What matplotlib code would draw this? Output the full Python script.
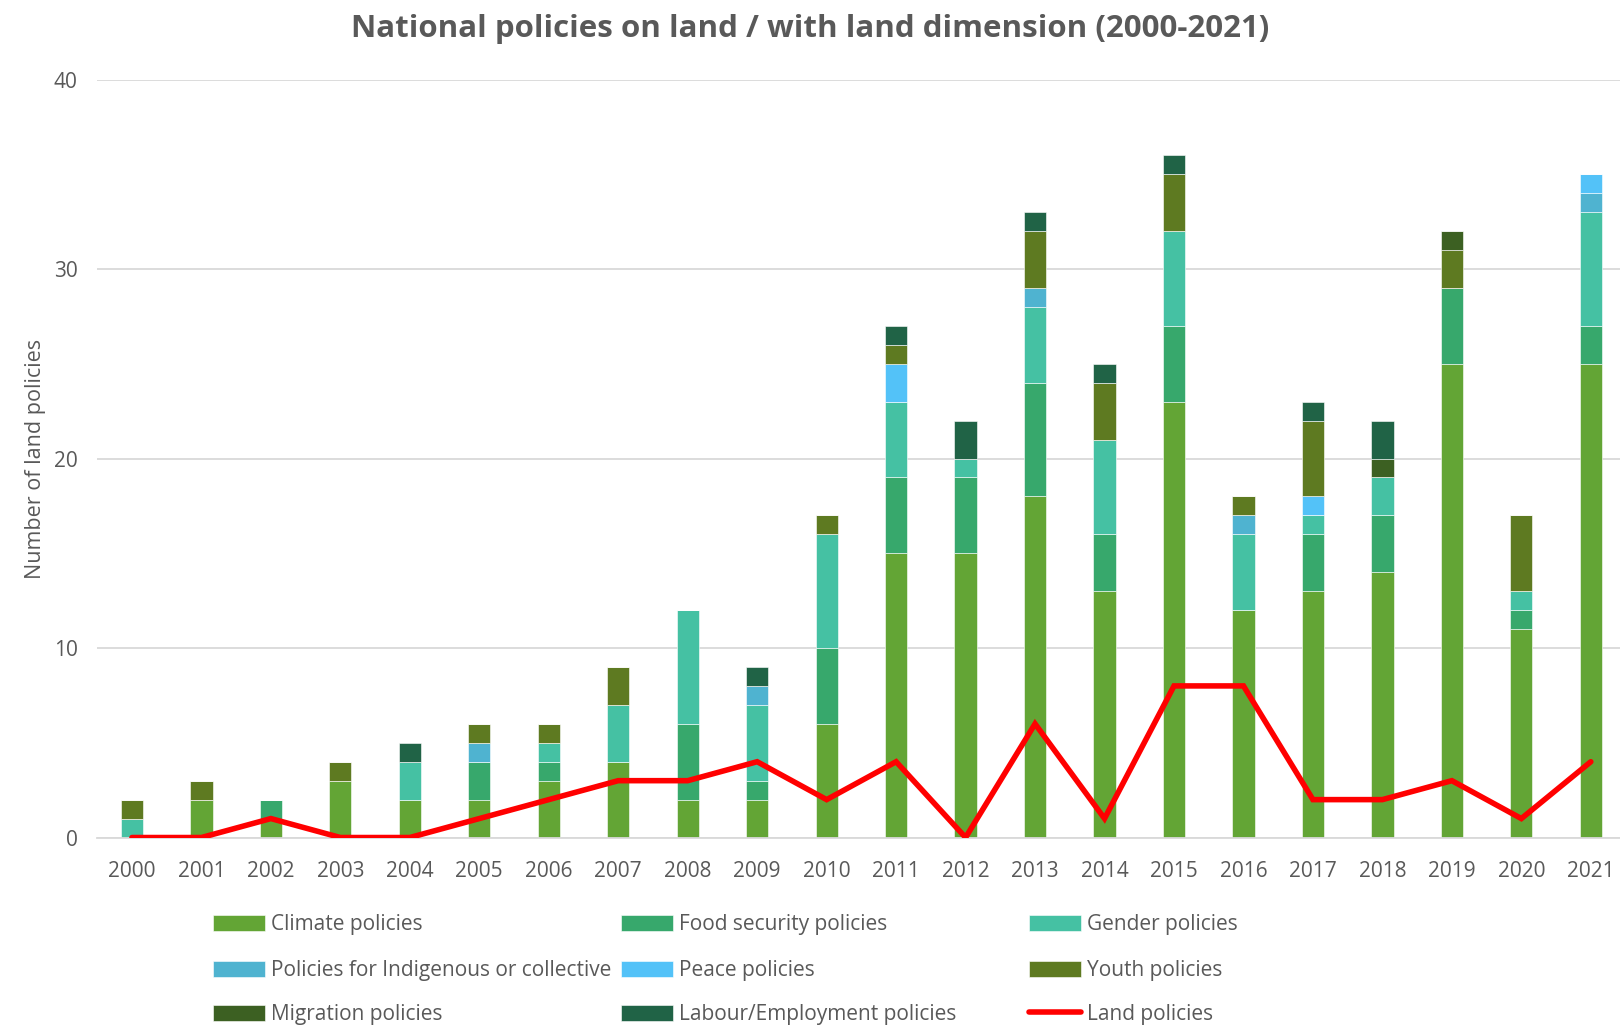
import numpy as np
import matplotlib.pyplot as plt

plt.rcParams['font.family'] = ['Open Sans', 'DejaVu Sans']

years = [str(y) for y in range(2000, 2022)]

# policy counts per year, stacked bottom to top
climate    = [0, 2, 1, 3, 2, 2, 3, 4, 2, 2, 6, 15, 15, 18, 13, 23, 12, 13, 14, 25, 11, 25]
food       = [0, 0, 1, 0, 0, 2, 1, 0, 4, 1, 4, 4, 4, 6, 3, 4, 0, 3, 3, 4, 1, 2]
gender     = [1, 0, 0, 0, 2, 0, 1, 3, 6, 4, 6, 4, 1, 4, 5, 5, 4, 1, 2, 0, 1, 6]
indigenous = [0, 0, 0, 0, 0, 1, 0, 0, 0, 1, 0, 0, 0, 1, 0, 0, 1, 0, 0, 0, 0, 1]
peace      = [0, 0, 0, 0, 0, 0, 0, 0, 0, 0, 0, 2, 0, 0, 0, 0, 0, 1, 0, 0, 0, 1]
youth      = [1, 1, 0, 1, 0, 1, 1, 2, 0, 0, 1, 1, 0, 3, 3, 3, 1, 4, 0, 2, 4, 0]
migration  = [0, 0, 0, 0, 0, 0, 0, 0, 0, 0, 0, 0, 0, 0, 0, 0, 0, 0, 1, 1, 0, 0]
labour     = [0, 0, 0, 0, 1, 0, 0, 0, 0, 1, 0, 1, 2, 1, 1, 1, 0, 1, 2, 0, 0, 0]
land       = [0, 0, 1, 0, 0, 1, 2, 3, 3, 4, 2, 4, 0, 6, 1, 8, 8, 2, 2, 3, 1, 4]

series = [
    ("Climate policies", climate, "#63a535"),
    ("Food security policies", food, "#37a86c"),
    ("Gender policies", gender, "#45c1a3"),
    ("Policies for Indigenous or collective", indigenous, "#4fb3d0"),
    ("Peace policies", peace, "#53c2f8"),
    ("Youth policies", youth, "#5e7a21"),
    ("Migration policies", migration, "#3c6022"),
    ("Labour/Employment policies", labour, "#206346"),
]

grey = "#595959"

fig = plt.figure(figsize=(16.2, 10.26), dpi=100)
ax = fig.add_axes([0.060, 0.1837, 0.940, 0.7388])

x = np.arange(len(years))
bottom = np.zeros(len(years))
handles = []
labels = []
for name, vals, col in series:
    vals = np.array(vals, dtype=float)
    b = ax.bar(x, vals, 0.32, bottom=bottom, color=col, edgecolor="white",
               linewidth=0.4, label=name, zorder=2)
    handles.append(b)
    labels.append(name)
    bottom += vals

ln, = ax.plot(x, land, color="#ff0000", lw=4, solid_capstyle="round",
              solid_joinstyle="miter", label="Land policies", zorder=3)
handles.append(ln)
labels.append("Land policies")

ax.set_xlim(-0.5, 21.42)
ax.set_ylim(0, 40)
ax.set_yticks([0, 10, 20, 30, 40])
ax.set_xticks(x)
ax.set_xticklabels(years)
ax.grid(axis="y", color="#d9d9d9", lw=1.3, zorder=0)
for s in ["top", "right", "left"]:
    ax.spines[s].set_visible(False)
ax.spines["bottom"].set_color("#d9d9d9")
ax.spines["bottom"].set_linewidth(1.3)
ax.tick_params(axis="both", length=0, labelsize=15, colors=grey)
ax.tick_params(axis="x", pad=17)
ax.tick_params(axis="y", pad=14)

ax.set_ylabel("Number of land policies", fontsize=15.5, color=grey, labelpad=6)
fig.suptitle("National policies on land / with land dimension (2000-2021)",
             fontsize=22.5, fontweight="bold", color=grey, y=0.986)

# legend grid: 3 columns, filled row by row
col_x = [0.1315, 0.3833, 0.6352]
row_y = [0.0985, 0.0540, 0.0112]
for i, (h, lab) in enumerate(zip(handles, labels)):
    r, c = divmod(i, 3)
    leg = fig.legend([h], [lab], loc="center left",
                     bbox_to_anchor=(col_x[c], row_y[r]), frameon=False,
                     fontsize=15, handlelength=2.5, handleheight=0.8,
                     handletextpad=0.3, borderaxespad=0, borderpad=0)
    for t in leg.get_texts():
        t.set_color(grey)

fig.savefig("out.png", dpi=100, facecolor="white")
